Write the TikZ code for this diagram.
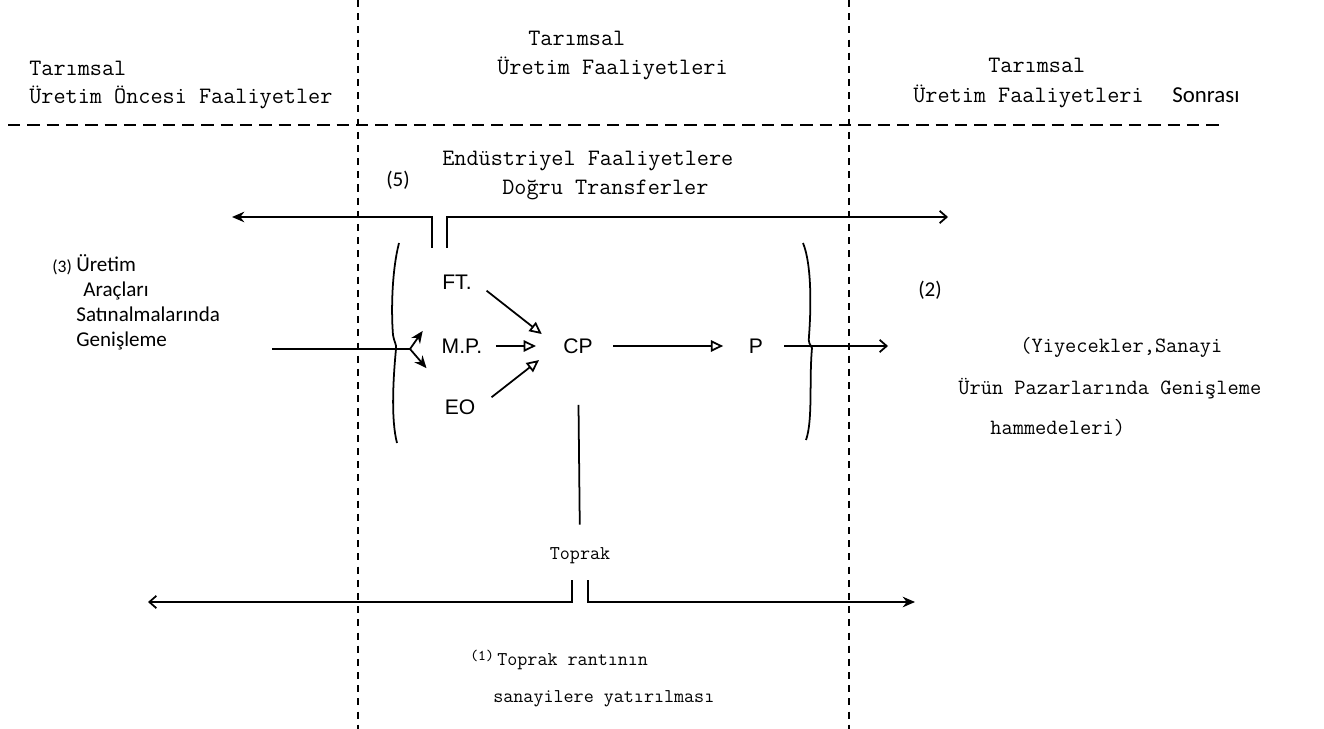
\documentclass[tikz,border=0pt]{standalone}
\usepackage{fontspec}
\newfontfamily\labelFont{Liberation Sans}
\newfontfamily\handFont{Carlito}
\usetikzlibrary{arrows.meta,calc}
\newcommand{\typeBig}{\ttfamily\addfontfeatures{FakeBold=0.8}\fontsize{13.4}{16}\selectfont}
\newcommand{\typeMid}{\ttfamily\addfontfeatures{FakeBold=0.8}\fontsize{12.4}{15}\selectfont}
\newcommand{\typeSmall}{\ttfamily\addfontfeatures{FakeBold=0.8}\fontsize{11.1}{13}\selectfont}
\newcommand{\handText}{\handFont\fontsize{12}{14.2}\selectfont}

\begin{document}
\begin{tikzpicture}[%%
  x=0.02cm,y=-0.02cm,%%
  lineStyle/.style={line width=1pt},%%
  vDivStyle/.style={line width=1.1pt,dash pattern=on 4pt off 3.5pt},%%
  hDivStyle/.style={line width=1pt,dash pattern=on 7pt off 4pt},%%
  headStyle/.style={font=\typeBig,inner sep=0pt,anchor=base west},%%
  sideStyle/.style={font=\typeMid,inner sep=0pt,anchor=base west},%%
  footStyle/.style={font=\typeSmall,inner sep=0pt,anchor=base west},%%
  labelStyle/.style={font=\labelFont\fontsize{12}{14}\selectfont,inner sep=2pt},%%
  handStyle/.style={font=\handText,inner sep=0pt},%%
  openTip/.style={lineStyle,-{Triangle[open,length=7pt,width=6.5pt]}},%%
  barbTip/.style={lineStyle,-{Straight Barb[length=4pt,width=7pt]}},%%
  solidTip/.style={lineStyle,-{Stealth[length=7pt,width=6pt]}}
]
\useasboundingbox (0,0) rectangle (1324,729);
%%
%% Dividing lines between the three stages.
\draw[vDivStyle] (358,0) -- (358,729);
\draw[vDivStyle] (849,0) -- (849,729);
\draw[hDivStyle] (8,125) -- (1220,125);
%%
%% Stage headings.
\node[headStyle] (preHeadA) at (29,76) {Tarımsal};
\node[headStyle] (preHeadB) at (29,104) {Üretim Öncesi Faaliyetler};
\node[headStyle] (midHeadA) at (528,46) {Tarımsal};
\node[headStyle] (midHeadB) at (497,75) {Üretim Faaliyetleri};
\node[headStyle] (postHeadA) at (988,73) {Tarımsal};
\node[headStyle] (postHeadB) at (913,103) {Üretim Faaliyetleri};
\node[handStyle,anchor=base west,font=\handFont\fontsize{13}{14}\selectfont]
  (postHeadC) at (1172,103) {Sonrası};
%%
%% Transfers towards industry.
\node[headStyle] (transA) at (442,166) {Endüstriyel Faaliyetlere};
\node[headStyle] (transB) at (502,195) {Doğru Transferler};
\node[handStyle] (transNum) at (398,180) {(5)};
\coordinate (trL) at (432,248);
\coordinate (trR) at (447,248);
\coordinate (topLeft) at (232,217);
\coordinate (topRight) at (948,217);
\draw[solidTip] (trL) |- (topLeft);
\draw[barbTip] (trR) |- (topRight);
%%
%% Production inputs and output.
\node[labelStyle] (FT) at (457,282) {FT.};
\node[labelStyle] (MP) at (462,346) {M.P.};
\node[labelStyle] (EO) at (460,407) {EO};
\node[labelStyle] (CP) at (578,346) {CP};
\node[labelStyle] (P) at (756,346) {P};
\coordinate (cpIn) at (557,346);
\draw[openTip,shorten <=8pt,shorten >=11pt] (FT.east) -- (cpIn);
\draw[openTip,shorten <=5.5pt,shorten >=12pt] (MP.east) -- (cpIn);
\draw[openTip,shorten <=9pt,shorten >=13pt] (EO.east) -- (cpIn);
\draw[openTip,shorten <=9.5pt,shorten >=12.5pt] (CP) -- (P);
\coordinate (outTip) at (888,346);
\draw[barbTip,shorten <=10pt] (P.east) -- (outTip);
%%
%% Brackets round the production stage.
\draw[lineStyle] (399,243) .. controls (392,270) and (391,310) .. (393,335)
  .. controls (394,342) and (397,345) .. (396,349)
  .. controls (393,380) and (391,420) .. (397,443);
\draw[lineStyle] (803,243) .. controls (812,265) and (811,310) .. (809,336)
  .. controls (808,342) and (810,345) .. (812,348)
  .. controls (809,380) and (813,420) .. (806,440);
%%
%% (3) Purchases of means of production.
\node[handStyle,anchor=base west] (inNum) at (52,273)
  {\fontsize{10}{11}\selectfont(3)};
\node[handStyle,align=left,anchor=north west] (inText) at (76,254)
  {Üretim\\\hspace*{4pt}Araçları\\Satınalmalarında\\Genişleme};
\coordinate (inStart) at (272,349);
\coordinate (fork) at (410,349);
\draw[lineStyle] (inStart) -- (fork);
\draw[solidTip] (fork) -- ($(fork)!0.27!(FT)$);
\draw[solidTip] (fork) -- ($(fork)!0.33!(EO)$);
%%
%% (2) Expansion of product markets.
\node[handStyle,font=\handFont\fontsize{12}{14}\selectfont] (outNum) at (930,290) {(2)};
\node[sideStyle] (outA) at (1020,352) {(Yiyecekler,Sanayi};
\node[sideStyle] (outB) at (958,394) {Ürün Pazarlarında Genişleme};
\node[sideStyle] (outC) at (990,434) {hammedeleri)};
%%
%% (1) Land rent invested in industry.
\node[font=\typeSmall,inner sep=0pt] (Toprak) at (580,556) {Toprak};
\draw[lineStyle,shorten <=27pt,shorten >=13pt] (CP.south) -- (Toprak.north);
\coordinate (tpL) at (572,580);
\coordinate (tpR) at (588,580);
\coordinate (botLeft) at (148,602);
\coordinate (botRight) at (915,602);
\draw[barbTip] (tpL) |- (botLeft);
\draw[solidTip] (tpR) |- (botRight);
\node[footStyle,font=\typeSmall\fontsize{8.5}{9}\selectfont] (rentNum) at (470,660) {(1)};
\node[footStyle] (rentA) at (497,665) {Toprak rantının};
\node[footStyle] (rentB) at (493,702) {sanayilere yatırılması};

\end{tikzpicture}
\end{document}
